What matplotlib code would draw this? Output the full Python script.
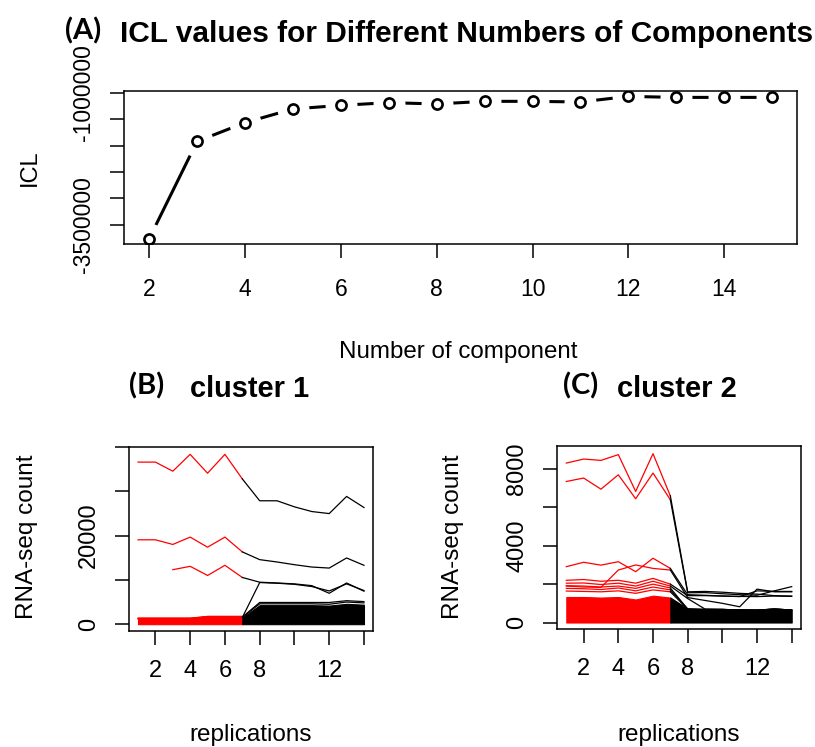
import numpy as np
import matplotlib
matplotlib.use('Agg')
import matplotlib.pyplot as plt

W, H, DPI = 815, 747, 100

# ---------------- data ----------------
components = np.arange(2, 16)
icl = [-3766000, -1919000, -1564000, -1304000, -1235000, -1184000, -1209000,
       -1159000, -1159000, -1171000, -1065000, -1084000, -1084000, -1084000]
icl_ticks = [-3500000, -3000000, -2500000, -2000000, -1500000, -1000000]
icl_ticklabels = ['-3500000', '', '', '', '', '-1000000']
comp_ticks = [2, 4, 6, 8, 10, 12, 14]

reps = np.arange(1, 15)
rep_ticks = [2, 4, 6, 8, 10, 12, 14]
rep_ticklabels = ['2', '4', '6', '8', '', '12', '']

# cluster 1 (panel B): individual gene profiles
b_genes = [
    [36590, 36590, 34540, 38340, 34080, 38340, 32800, 27860, 27860, 26490, 25430, 24970, 28840, 26340],
    [19050, 19050, 18000, 19660, 17380, 19660, 16320, 14570, 14040, 13430, 12900, 12670, 14950, 13290],
    [np.nan, np.nan, 12300, 13060, 11000, 13290, 10550, 9480, 9300, 9100, 8700, 6980, 9300, 7450],
    [1200, 1200, 1200, 1200, 1500, 1500, 1500, 9400, 9250, 9000, 8500, 7500, 9100, 7600],
    [1300, 1300, 1300, 1300, 1700, 1700, 1600, 4900, 4900, 4900, 4900, 4900, 5300, 5100],
    [1300, 1300, 1300, 1300, 1600, 1600, 1500, 4600, 4600, 4600, 4600, 4500, 5000, 4800],
]
b_mass_red = [1500, 1500, 1500, 1500, 1900, 1900, 1900]
b_mass_black = [1500, 4300, 4300, 4300, 4300, 4200, 4600, 4400]
b_ticks = [0, 10000, 20000, 30000, 40000]
b_ticklabels = ['0', '', '20000', '', '']

# cluster 2 (panel C)
c_genes = [
    [8310, 8520, 8450, 8750, 6830, 8800, 6600, 1600, 1620, 1580, 1520, 1480, 1400, 1380],
    [7350, 7530, 6950, 7700, 6450, 7790, 6400, 1550, 1560, 1500, 1450, 1420, 1650, 1870],
    [2910, 3140, 2990, 3170, 2650, 3350, 2820, 1450, 1420, 1380, 1350, 1650, 1620, 1620],
    [1900, 1850, 1830, 2735, 3000, 2820, 2735, 1300, 1150, 1000, 820, 1740, 1600, 1600],
    [2200, 2240, 2150, 2200, 2050, 2300, 2000, 1400, 1400, 1380, 1360, 1350, 1380, 1360],
    [2050, 2060, 1980, 2050, 1900, 2150, 1900, 1250, 700, 680, 660, 650, 700, 650],
    [1920, 1900, 1850, 1900, 1780, 2000, 1800, 700, 680, 680, 650, 640, 700, 650],
    [1780, 1760, 1720, 1800, 1650, 1850, 1700, 700, 680, 680, 650, 640, 700, 650],
    [1640, 1620, 1600, 1650, 1520, 1700, 1600, 700, 680, 680, 650, 640, 700, 650],
]
c_mass_red = [1330, 1330, 1300, 1330, 1200, 1400, 1300]
c_mass_black = [1300, 720, 680, 680, 650, 640, 700, 650]
c_ticks = [0, 2000, 4000, 6000, 8000]
c_ticklabels = ['0', '', '4000', '', '8000']

# ---------------- style ----------------
plt.rcParams['font.family'] = ['Liberation Sans', 'DejaVu Sans']
LABEL_FONT = ['Lato', 'DejaVu Sans']

fig = plt.figure(figsize=(W / DPI, H / DPI), dpi=DPI)


def box(l, t, r, b):
    return fig.add_axes([l / W, 1 - b / H, (r - l) / W, (b - t) / H])


def rlim(lo, hi):
    d = (hi - lo) * 0.04
    return lo - d, hi + d


def r_style(ax, fs, xpad, ypad):
    for s in ax.spines.values():
        s.set_linewidth(1.1)
        s.set_zorder(10)
    ax.tick_params(direction='out', length=10, width=1.1, labelsize=fs)
    ax.tick_params(axis='x', pad=xpad)
    ax.tick_params(axis='y', pad=ypad)


def fx(x):
    return x / W


def fy(y):
    return 1 - y / H


# ---------------- panel A ----------------
axA = box(124.3, 90.7, 797, 244.3)
axA.plot(components, icl, color='black', lw=2.2, zorder=2)
axA.plot(components, icl, 'o', ms=23, mfc='white', mec='none', zorder=3)
axA.plot(components, icl, 'o', ms=7.3, mfc='none', mec='black', mew=1.9, zorder=4)
axA.set_xlim(*rlim(min(components), max(components)))
axA.set_ylim(*rlim(min(icl), max(icl)))
axA.set_xticks(comp_ticks, [str(t) for t in comp_ticks])
axA.set_yticks(icl_ticks, icl_ticklabels, rotation=90, va='center')
r_style(axA, 16.5, 14, 11)

fig.text(fx(65), fy(31), '(A)', family=LABEL_FONT, weight='bold', fontsize=21,
         ha='left', va='center')
fig.text(fx(120), fy(42), 'ICL values for Different Numbers of Components',
         weight='bold', fontsize=21.5, ha='left', va='baseline')
fig.text(fx(30), fy(167.5), 'ICL', rotation=90, fontsize=17, ha='center', va='center')
fig.text(fx(458.5), fy(358), 'Number of component', fontsize=17.4, ha='center', va='baseline')


# ---------------- panels B, C ----------------
def cluster_panel(ax, genes, mass_red, mass_black, ticks, ticklabels, ytop):
    red_x = reps[:7]
    black_x = reps[6:]
    ax.fill_between(red_x, 0, mass_red, color='#FF0000', lw=0.8, zorder=1)
    ax.fill_between(black_x, 0, mass_black, color='black', lw=0.8, zorder=1)
    for g in genes:
        g = np.asarray(g, dtype=float)
        ax.plot(red_x, g[:7], color='#FF0000', lw=0.9, zorder=2)
        ax.plot(black_x, g[6:], color='black', lw=0.9, zorder=2)
    ax.set_xlim(*rlim(reps[0], reps[-1]))
    ax.set_ylim(-0.04 * ytop / 1.04, ytop)
    ax.set_xticks(rep_ticks, rep_ticklabels)
    ax.set_yticks(ticks, ticklabels, rotation=90, va='center')
    r_style(ax, 17, 11, 10.8)


axB = box(129, 447, 373, 631)
cluster_panel(axB, b_genes, b_mass_red, b_mass_black, b_ticks, b_ticklabels, 40000)
axC = box(557.3, 446, 800.7, 629.3)
cluster_panel(axC, c_genes, c_mass_red, c_mass_black, c_ticks, c_ticklabels, 9200)

fig.text(fx(129), fy(386), '(B)', family=LABEL_FONT, weight='bold', fontsize=21,
         ha='left', va='center')
fig.text(fx(190), fy(397), 'cluster 1', weight='bold', fontsize=20.9, ha='left', va='baseline')
fig.text(fx(27), fy(537), 'RNA-seq count', rotation=90, fontsize=17.5, ha='center', va='center')
fig.text(fx(251), fy(741), 'replications', fontsize=17.5, ha='center', va='baseline')

fig.text(fx(563), fy(386), '(C)', family=LABEL_FONT, weight='bold', fontsize=21,
         ha='left', va='center')
fig.text(fx(617), fy(397), 'cluster 2', weight='bold', fontsize=21, ha='left', va='baseline')
fig.text(fx(453), fy(537), 'RNA-seq count', rotation=90, fontsize=17.5, ha='center', va='center')
fig.text(fx(679), fy(741), 'replications', fontsize=17.5, ha='center', va='baseline')

fig.savefig('out.png', dpi=DPI)
